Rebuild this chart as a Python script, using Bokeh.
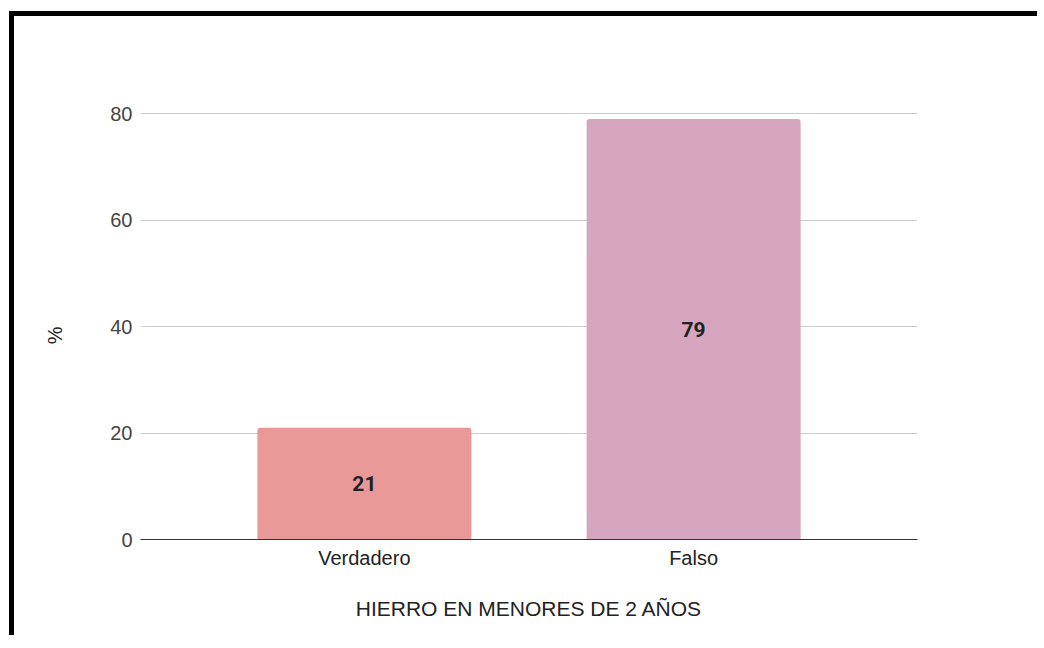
from bokeh.plotting import figure
from bokeh.models import ColumnDataSource, FactorRange, Range1d, FixedTicker
from bokeh.core.properties import value
from bokeh.embed import file_html
from bokeh.resources import INLINE

categories = ["Verdadero", "Falso"]
values = [21, 79]
colors = ["#ea9999", "#d5a6bd"]
y_ticks = [0, 20, 40, 60, 80]

src = ColumnDataSource(dict(
    cat=categories,
    val=values,
    mid=[v / 2 for v in values],
    label=[str(v) for v in values],
    color=colors,
))

p = figure(
    x_range=FactorRange(factors=categories, range_padding=0.18),
    y_range=Range1d(0, 84),
    width=1028, height=624,
    min_border_left=126, min_border_right=125,
    min_border_top=76, min_border_bottom=101,
    output_backend="svg", toolbar_location=None,
)
p.styles = {"border-top": "5px solid black", "border-left": "5px solid black",
            "margin-top": "11px", "margin-left": "9px"}

p.vbar(x="cat", top="val", width=0.65, source=src, fill_color="color",
       line_color=None, border_radius=(3, 3, 0, 0))
p.text(x="cat", y="mid", text="label", source=src, text_align="center",
       text_baseline="middle", text_font=value("Roboto"), text_font_style="bold",
       text_font_size="21px", text_color="#222222")

p.outline_line_color = None
p.xgrid.grid_line_color = None
p.ygrid.grid_line_color = "#cccccc"
p.ygrid.grid_line_width = 1

p.yaxis.ticker = FixedTicker(ticks=y_ticks)
p.yaxis.axis_line_color = None
p.yaxis.major_tick_line_color = None
p.yaxis.major_tick_out = 0
p.yaxis.major_tick_in = 0
p.yaxis.minor_tick_line_color = None
p.yaxis.major_label_standoff = 8
p.yaxis.major_label_text_font = "Liberation Sans"
p.yaxis.major_label_text_font_size = "20px"
p.yaxis.major_label_text_color = "#444444"
# trailing non-breaking spaces shift the "%" slightly below the axis centre
p.yaxis.axis_label = "%" + "\u00a0" * 7
p.yaxis.axis_label_text_font = "Liberation Sans"
p.yaxis.axis_label_text_font_style = "normal"
p.yaxis.axis_label_text_font_size = "20px"
p.yaxis.axis_label_text_color = "#222222"
p.yaxis.axis_label_standoff = 41

p.xaxis.axis_line_color = "#333333"
p.xaxis.axis_line_width = 1
p.xaxis.major_tick_line_color = None
p.xaxis.major_tick_out = 0
p.xaxis.major_tick_in = 0
p.xaxis.minor_tick_line_color = None
p.xaxis.major_label_standoff = 7
p.xaxis.major_label_text_font = "Liberation Sans"
p.xaxis.major_label_text_font_size = "20px"
p.xaxis.major_label_text_color = "#222222"
p.xaxis.axis_label = "HIERRO EN MENORES DE 2 AÑOS"
p.xaxis.axis_label_text_font = "Liberation Sans"
p.xaxis.axis_label_text_font_style = "normal"
p.xaxis.axis_label_text_font_size = "21px"
p.xaxis.axis_label_text_color = "#222222"
p.xaxis.axis_label_standoff = 25

open("out.html", "w").write(file_html(p, INLINE))
